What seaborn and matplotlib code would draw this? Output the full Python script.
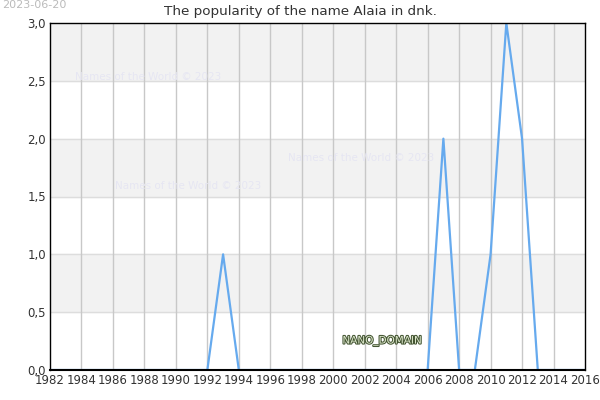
import numpy as np
import pandas as pd
import matplotlib
matplotlib.use("Agg")
import matplotlib.pyplot as plt
import matplotlib.patheffects as pe
import seaborn as sns

# Data
years = list(range(1982, 2017))
spikes = {1993: 1, 2007: 2, 2010: 1, 2011: 3, 2012: 2}
counts = [spikes.get(y, 0) for y in years]
x_ticks = list(range(1982, 2017, 2))
y_ticks = [0.0, 0.5, 1.0, 1.5, 2.0, 2.5, 3.0]
y_labels = [f"{v:.1f}".replace(".", ",") for v in y_ticks]

df = pd.DataFrame({"year": years, "count": counts})

sns.set_style("white")
plt.rcParams['font.family'] = ['DejaVu Sans']

fig = plt.figure(figsize=(6, 4), dpi=100)
ax = fig.add_axes([50/600, 30/400, 535/600, 347/400])

# alternating bands
for lo in [0.5, 1.5, 2.5]:
    ax.axhspan(lo, lo + 0.5, color="#f2f2f2", zorder=0)
for v in y_ticks[1:-1]:
    ax.axhline(v, color="#dddddd", lw=1, zorder=1)
for xv in x_ticks[1:-1]:
    ax.axvline(xv, color="#c8c8c8", lw=1, zorder=1)

sns.lineplot(data=df, x="year", y="count", ax=ax, color="#66aaee", lw=1.6, zorder=3)

ax.set_xlim(1982, 2016)
ax.set_ylim(0, 3)
ax.set_xticks(x_ticks)
ax.set_xticklabels([str(t) for t in x_ticks], fontsize=8.5, color="#333333")
ax.set_yticks(y_ticks)
ax.set_yticklabels(y_labels, fontsize=8.5, color="#333333")
ax.tick_params(length=0, pad=3)
ax.set_xlabel("")
ax.set_ylabel("")
for s in ax.spines.values():
    s.set_color("black")
    s.set_linewidth(1)
    s.set_zorder(4)
ax.spines["bottom"].set_linewidth(1.5)

fig.text(0.5, 1 - 11/400, "The popularity of the name Alaia in dnk.", fontsize=9.7,
         color="#333333", ha="center", va="center")

# watermarks
wm = "Names of the World © 2023"
for xx, yy in [(75, 77), (288, 158), (115, 186)]:
    fig.text(xx/600, 1 - yy/400, wm, fontsize=7.5, color="#e6e6f2", va="center", ha="left")

fig.text(2/600, 1 - 5/400, "2023-06-20", fontsize=8, color="#bbbbbb", va="center", ha="left")

t = fig.text(382/600, 1 - 341/400, "NANO_DOMAIN", fontsize=7.5, color="#dde8cc",
             va="center", ha="center")
t.set_path_effects([pe.withStroke(linewidth=1.5, foreground="#445533")])

fig.savefig("out.png", dpi=100)
